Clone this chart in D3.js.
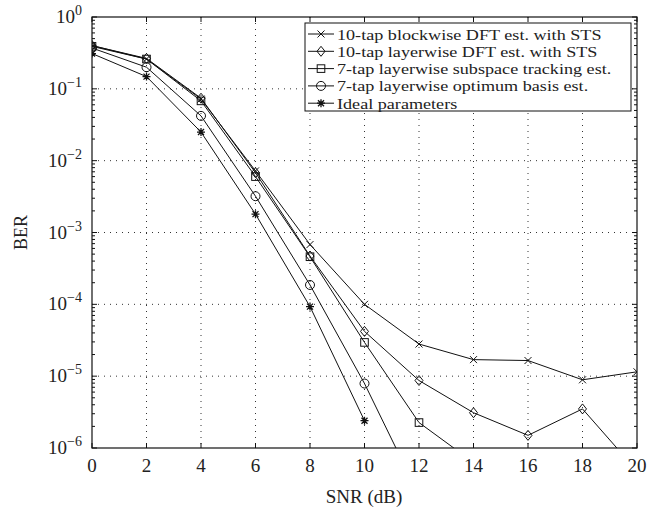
<!DOCTYPE html>
<html><head><meta charset="utf-8">
<script src="https://cdn.jsdelivr.net/npm/d3@7"></script>
<style>body{margin:0;background:#fff}text{font-family:"Liberation Serif","DejaVu Serif",serif;fill:#222}</style>
</head><body><svg id="c" width="662" height="512"></svg>
<script>
const snr = [0,2,4,6,8,10,12,14,16,18,20];
const seriesNames = ["10-tap blockwise DFT est. with STS","10-tap layerwise DFT est. with STS","7-tap layerwise subspace tracking est.","7-tap layerwise optimum basis est.","Ideal parameters"];
const berBlockDFT = [0.40,0.26,0.072,0.0072,6.8e-4,1.0e-4,2.8e-5,1.7e-5,1.65e-5,8.9e-6,1.15e-5];
const berLayerDFT = [0.40,0.265,0.074,0.0068,4.7e-4,4.2e-5,8.7e-6,3.1e-6,1.5e-6,3.5e-6,4.8e-7];
const berSubspace = [0.39,0.26,0.068,0.006,4.6e-4,2.95e-5,2.26e-6,6.3e-7];
const berOptimum = [0.37,0.20,0.042,0.0032,1.86e-4,7.9e-6,2.2e-7];
const berIdeal = [0.31,0.148,0.025,0.0018,9.3e-5,2.4e-6];
const markers = ["x","diamond","square","circle","star"];
const xTicks = [0,2,4,6,8,10,12,14,16,18,20];
const yExps = [0,-1,-2,-3,-4,-5,-6];

const svg = d3.select("#c");
const L=92,R=637,T=17,B=448;
const x = d3.scaleLinear().domain([0,20]).range([L,R]);
const y = d3.scaleLog().domain([1e-6,1]).range([B,T]);

const g = svg.append("g");
xTicks.slice(1,-1).forEach(v=>g.append("line").attr("x1",x(v)).attr("x2",x(v)).attr("y1",T).attr("y2",B)
  .attr("stroke","#333").attr("stroke-width",1).attr("stroke-dasharray","1,5"));
yExps.slice(1,-1).forEach(e=>g.append("line").attr("x1",L).attr("x2",R).attr("y1",y(Math.pow(10,e))).attr("y2",y(Math.pow(10,e)))
  .attr("stroke","#333").attr("stroke-width",1).attr("stroke-dasharray","1,5"));

svg.append("clipPath").attr("id","clip").append("rect").attr("x",L).attr("y",T).attr("width",R-L).attr("height",B-T);

const all = [berBlockDFT,berLayerDFT,berSubspace,berOptimum,berIdeal];
const line = d3.line().x((d,i)=>x(snr[i])).y(d=>y(d));
function drawMarker(sel, type, cx, cy){
  const s = sel.append("g").attr("transform",`translate(${cx},${cy})`).attr("fill","none").attr("stroke","#111").attr("stroke-width",1);
  if(type==="x"){s.append("path").attr("d","M-3.5,-3.5L3.5,3.5M-3.5,3.5L3.5,-3.5");}
  else if(type==="diamond"){s.append("path").attr("d","M0,-5L4,0L0,5L-4,0Z");}
  else if(type==="square"){s.append("rect").attr("x",-3.8).attr("y",-3.8).attr("width",7.6).attr("height",7.6);}
  else if(type==="circle"){s.append("circle").attr("r",4.5);}
  else if(type==="star"){s.attr("stroke-width",1.3);s.append("path").attr("d","M-4,0L4,0M0,-4L0,4M-3,-3L3,3M-3,3L3,-3");}
}
const plot = svg.append("g").attr("clip-path","url(#clip)");
all.forEach((ser,k)=>{
  plot.append("path").datum(ser).attr("d",line).attr("fill","none").attr("stroke","#111").attr("stroke-width",1);
  ser.forEach((v,i)=>{ if(v>=1e-6) drawMarker(plot, markers[k], x(snr[i]), y(v)); });
});

svg.append("rect").attr("x",L).attr("y",T).attr("width",R-L).attr("height",B-T).attr("fill","none").attr("stroke","#111").attr("stroke-width",1.2);
const tk = svg.append("g").attr("stroke","#111").attr("stroke-width",1);
xTicks.forEach(v=>{
  tk.append("line").attr("x1",x(v)).attr("x2",x(v)).attr("y1",B).attr("y2",B-5);
  tk.append("line").attr("x1",x(v)).attr("x2",x(v)).attr("y1",T).attr("y2",T+5);
});
yExps.forEach(e=>{
  const base = Math.pow(10,e);
  tk.append("line").attr("x1",L).attr("x2",L+5).attr("y1",y(base)).attr("y2",y(base));
  tk.append("line").attr("x1",R).attr("x2",R-5).attr("y1",y(base)).attr("y2",y(base));
  if(e<0){
    for(let m=2;m<=9;m++){
      const yv=y(m*base);
      tk.append("line").attr("x1",L).attr("x2",L+3).attr("y1",yv).attr("y2",yv);
      tk.append("line").attr("x1",R).attr("x2",R-3).attr("y1",yv).attr("y2",yv);
    }
  }
});
xTicks.forEach(v=>svg.append("text").attr("x",x(v)).attr("y",B+24).attr("text-anchor","middle").attr("font-size",19).text(v));
yExps.forEach(e=>{
  const t = svg.append("text").attr("x",L-10).attr("y",y(Math.pow(10,e))+6).attr("text-anchor","end").attr("font-size",19);
  t.append("tspan").text("10");
  t.append("tspan").attr("dy",-8).attr("font-size",14).text(e===0?"0":"\u2212"+(-e));
});
svg.append("text").attr("x",364).attr("y",503).attr("text-anchor","middle").attr("font-size",19).text("SNR (dB)");
svg.append("text").attr("transform",`translate(27,${(T+B)/2}) rotate(-90)`).attr("text-anchor","middle").attr("font-size",18).text("BER");

const lg = svg.append("g");
lg.append("rect").attr("x",305).attr("y",23).attr("width",326).attr("height",88).attr("fill","#fff").attr("stroke","#111").attr("stroke-width",1);
seriesNames.forEach((n,k)=>{
  const yy = 34 + k*17.3;
  lg.append("line").attr("x1",308).attr("x2",334).attr("y1",yy).attr("y2",yy).attr("stroke","#111");
  drawMarker(lg, markers[k], 321, yy);
  lg.append("text").attr("transform",`translate(337,${yy+5.5}) scale(1.17,1)`).attr("font-size",15.5).text(n);
});
</script></body></html>
